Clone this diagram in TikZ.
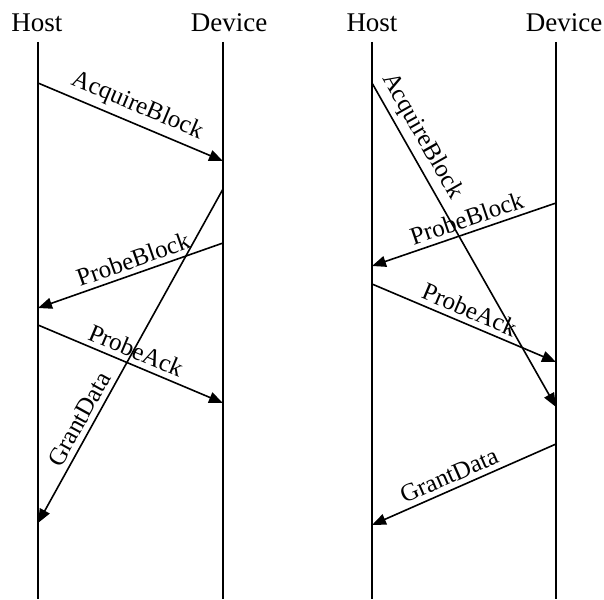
\documentclass[tikz,border=0pt]{standalone}
\usepackage{fontspec}
\setmainfont{Liberation Serif}
\usetikzlibrary{positioning, arrows.meta, calc}

\begin{document}
\begin{tikzpicture}[x=1pt, y=-1pt, >={Triangle[length=14pt,width=11pt]},
    life/.style={line width=1.6pt},
    msg/.style={->, line width=1.6pt},
    head/.style={font=\fontsize{27}{27}\selectfont, anchor=base, inner sep=0pt},
    lbl/.style={font=\fontsize{25}{25}\selectfont, sloped, above=3pt, inner sep=2pt}]
  \useasboundingbox (0,0) rectangle (604,599);

  % lifelines, left chart
  \node[head] (hostA) at (37,32) {Host};
  \node[head] (devA) at (229,32) {Device};
  \coordinate (hA) at (38,42);
  \coordinate (dA) at (223,42);
  \draw[life] (hA) -- (hA |- 0,599);
  \draw[life] (dA) -- (dA |- 0,599);

  % lifelines, right chart
  \node[head] (hostB) at (372,32) {Host};
  \node[head] (devB) at (564,32) {Device};
  \coordinate (hB) at (372,42);
  \coordinate (dB) at (556,42);
  \draw[life] (hB) -- (hB |- 0,599);
  \draw[life] (dB) -- (dB |- 0,599);

  % message ends, left
  \coordinate (a1) at (38,83);   \coordinate (a2) at (223,161);
  \coordinate (g1) at (223,189); \coordinate (g2) at (38,523);
  \coordinate (p1) at (223,243); \coordinate (p2) at (38,308);
  \coordinate (k1) at (38,325);  \coordinate (k2) at (223,403);

  % message ends, right
  \coordinate (b1) at (372,83);  \coordinate (b2) at (556,407);
  \coordinate (q1) at (556,203); \coordinate (q2) at (372,266);
  \coordinate (r1) at (372,284); \coordinate (r2) at (556,362);
  \coordinate (s1) at (556,444); \coordinate (s2) at (372,525);

  \path[msg] (a1) edge node[lbl]{AcquireBlock} (a2)
             (g1) edge node[lbl, pos=0.71]{GrantData} (g2)
             (p1) edge node[lbl, pos=0.46]{ProbeBlock} (p2)
             (k1) edge node[lbl]{ProbeAck} (k2);

  \path[msg] (b1) edge node[lbl, pos=0.19]{AcquireBlock} (b2)
             (q1) edge node[lbl, pos=0.46]{ProbeBlock} (q2)
             (r1) edge node[lbl]{ProbeAck} (r2)
             (s1) edge node[lbl, pos=0.55]{GrantData} (s2);
\end{tikzpicture}
\end{document}
